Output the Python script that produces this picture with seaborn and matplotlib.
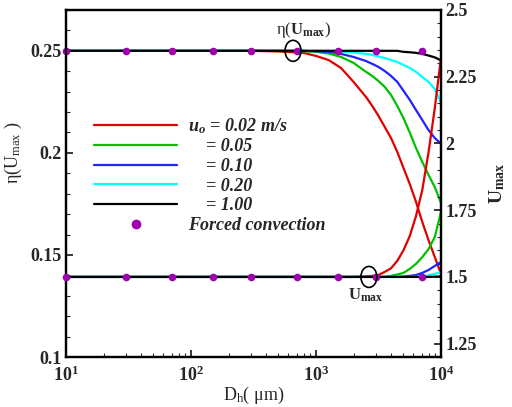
import numpy as np
import pandas as pd
import matplotlib
matplotlib.use("Agg")
import matplotlib.pyplot as plt
import matplotlib.ticker as mticker
from matplotlib.lines import Line2D
from matplotlib.patches import Ellipse
from matplotlib.transforms import ScaledTranslation
import seaborn as sns

# hydraulic diameter samples (um)
dh = [10, 316, 501, 794, 1000, 1259, 1585, 1995, 2512, 2818, 3162, 3548, 3981,
      4467, 5012, 5623, 6310, 7079, 7943, 8913, 10000]

uo_labels = ["0.02", "0.05", "0.10", "0.20", "1.00"]

# efficiency eta(Umax), left axis
eta_002 = [0.25, 0.25, 0.2497, 0.2490, 0.2475, 0.2455, 0.2416, 0.2348, 0.2274, 0.2230, 0.2181,
           0.2127, 0.2073, 0.2005, 0.1926, 0.1848, 0.1760, 0.1662, 0.1573, 0.1490, 0.1407]
eta_005 = [0.25, 0.25, 0.25, 0.2498, 0.2495, 0.2487, 0.2470, 0.2441, 0.2397, 0.2377, 0.2352,
           0.2323, 0.2284, 0.2230, 0.2170, 0.2100, 0.2024, 0.1956, 0.1892, 0.1833, 0.1755]
eta_010 = [0.25, 0.25, 0.25, 0.25, 0.2498, 0.2495, 0.2485, 0.2470, 0.2450, 0.2436, 0.2421,
           0.2401, 0.2377, 0.2348, 0.2304, 0.2260, 0.2210, 0.2161, 0.2112, 0.2073, 0.2044]
eta_020 = [0.25, 0.25, 0.25, 0.25, 0.25, 0.25, 0.2497, 0.2492, 0.2485, 0.2480, 0.2472,
           0.2465, 0.2455, 0.2445, 0.2431, 0.2416, 0.2397, 0.2372, 0.2348, 0.2313, 0.2245]
eta_100 = [0.25, 0.25, 0.25, 0.25, 0.25, 0.25, 0.25, 0.25, 0.25, 0.25, 0.25,
           0.25, 0.25, 0.25, 0.2495, 0.2493, 0.2490, 0.2485, 0.2477, 0.2468, 0.2453]

# maximum velocity Umax, right axis
umax_002 = [1.5, 1.5, 1.5, 1.5, 1.5, 1.5, 1.5, 1.5, 1.502, 1.504, 1.507,
            1.519, 1.532, 1.560, 1.600, 1.653, 1.728, 1.825, 1.966, 2.131, 2.321]
umax_005 = [1.5, 1.5, 1.5, 1.5, 1.5, 1.5, 1.5, 1.5, 1.5, 1.5, 1.5,
            1.5, 1.504, 1.509, 1.515, 1.530, 1.549, 1.574, 1.604, 1.649, 1.743]
umax_010 = [1.5, 1.5, 1.5, 1.5, 1.5, 1.5, 1.5, 1.5, 1.5, 1.5, 1.5,
            1.5, 1.5, 1.5, 1.502, 1.504, 1.507, 1.515, 1.526, 1.541, 1.556]
umax_020 = [1.5, 1.5, 1.5, 1.5, 1.5, 1.5, 1.5, 1.5, 1.5, 1.5, 1.5,
            1.5, 1.5, 1.5, 1.5, 1.5, 1.5, 1.502, 1.506, 1.511, 1.519]
umax_100 = [1.5, 1.5, 1.5, 1.5, 1.5, 1.5, 1.5, 1.5, 1.5, 1.5, 1.5,
            1.5, 1.5, 1.5, 1.5, 1.5, 1.5, 1.5, 1.5, 1.501, 1.502]

# forced convection reference points
fc_dh = [10, 30, 70, 150, 300, 700, 1500, 3000, 7000]
fc_eta = [0.25] * 9
fc_umax = [1.5] * 9

colors = ["#e00000", "#00c000", "#2222ff", "#00ffff", "#000000"]
fc_color = "#a000b0"

eta_df = pd.DataFrame({
    "Dh": dh * 5,
    "uo": np.repeat(uo_labels, len(dh)),
    "val": eta_002 + eta_005 + eta_010 + eta_020 + eta_100,
})
umax_df = pd.DataFrame({
    "Dh": dh * 5,
    "uo": np.repeat(uo_labels, len(dh)),
    "val": umax_002 + umax_005 + umax_010 + umax_020 + umax_100,
})
palette = dict(zip(uo_labels, colors))

sns.set_theme(style="ticks")
plt.rcParams["font.family"] = ["Liberation Serif", "DejaVu Serif"]
plt.rcParams["mathtext.fontset"] = "custom"
plt.rcParams["mathtext.rm"] = "Liberation Serif"
plt.rcParams["mathtext.it"] = "Liberation Serif:italic:bold"
plt.rcParams["mathtext.bf"] = "Liberation Serif:bold"

fig = plt.figure(figsize=(5.12, 4.07), dpi=100)
ax = fig.add_axes([66 / 512, 50 / 407, 375 / 512, 347 / 407])
ax2 = ax.twinx()

sns.lineplot(data=eta_df, x="Dh", y="val", hue="uo", palette=palette, hue_order=uo_labels,
             estimator=None, sort=False, lw=1.6, legend=False, ax=ax)
sns.lineplot(data=umax_df, x="Dh", y="val", hue="uo", palette=palette, hue_order=uo_labels,
             estimator=None, sort=False, lw=1.6, legend=False, ax=ax2)
ax.scatter(fc_dh, fc_eta, s=30, color=fc_color, zorder=5, clip_on=False, linewidths=0)
ax2.scatter(fc_dh, fc_umax, s=30, color=fc_color, zorder=5, clip_on=False, linewidths=0)

ax.set_xscale("log")
ax.set_xlim(10, 10000)
ax.set_ylim(0.1, 0.27)
ax2.set_ylim(1.2, 2.5)

ax.yaxis.set_major_locator(mticker.MultipleLocator(0.05))
ax.yaxis.set_minor_locator(mticker.MultipleLocator(0.01))
ax.yaxis.set_major_formatter(mticker.FormatStrFormatter("%g"))
ax2.yaxis.set_major_locator(mticker.FixedLocator([1.25, 1.5, 1.75, 2, 2.25, 2.5]))
ax2.yaxis.set_minor_locator(mticker.MultipleLocator(0.05))
ax2.yaxis.set_major_formatter(mticker.FormatStrFormatter("%g"))
ax.xaxis.set_major_locator(mticker.FixedLocator([10, 100, 1000, 10000]))
ax.xaxis.set_major_formatter(mticker.FixedFormatter([r"$\mathbf{10^{1}}$", r"$\mathbf{10^{2}}$",
                                                     r"$\mathbf{10^{3}}$", r"$\mathbf{10^{4}}$"]))
ax.xaxis.set_minor_locator(mticker.LogLocator(base=10, subs=np.arange(2, 10), numticks=30))
ax.xaxis.set_minor_formatter(mticker.NullFormatter())

for a in (ax, ax2):
    for s in a.spines.values():
        s.set_linewidth(1.6)
        s.set_color("black")
    a.tick_params(which="major", direction="in", length=5, width=1.3, labelsize=13, pad=3)
    a.tick_params(which="minor", direction="in", length=3, width=0.8)
ax.tick_params(axis="x", which="major", pad=6)
ax.tick_params(axis="y", which="both", left=True, right=False)
ax.tick_params(axis="x", which="both", bottom=True, top=False)
ax2.tick_params(axis="y", which="both", right=True, left=False)
for lab in ax.get_yticklabels() + ax2.get_yticklabels():
    lab.set_fontweight("bold")

ax.set_xlabel(r"D$_{\mathrm{h}}$( μm)", fontsize=13, labelpad=0)
ax.set_ylabel(r"$\mathrm{\eta}$(U$_{\mathrm{max}}$ )", fontsize=13)
ax.yaxis.set_label_coords(-0.112, 0.588)
ax2.set_ylabel(r"$\mathbf{U_{max}}$", fontsize=14, labelpad=8)

# circled markers and their labels
def ring(axis, x, y):
    tr = fig.dpi_scale_trans + ScaledTranslation(x, y, axis.transData)
    axis.add_patch(Ellipse((0, 0), 0.16, 0.21, transform=tr, fill=False, ec="black", lw=1.2, zorder=6))

ring(ax, 655, 0.25)
ring(ax2, 2650, 1.5)
ax.text(655 * 1.22, 0.2602, r"$\mathrm{\eta}$($\mathbf{U_{max}}$)", fontsize=12, ha="center", va="center")
ax2.text(2650 * 0.95, 1.43, r"$\mathbf{U_{max}}$", fontsize=12, ha="center", va="center")

handles = [Line2D([], [], color=c, lw=1.6) for c in colors]
handles.append(Line2D([], [], ls="none", marker="o", ms=6, color=fc_color, mec=fc_color))
labels = [r"$u_o$ = 0.02 m/s", "    = 0.05", "    = 0.10", "    = 0.20", "    = 1.00",
          "Forced convection"]
ax.legend(handles, labels, loc="upper left", bbox_to_anchor=(0.075, 0.695), frameon=False,
          prop={"family": "Liberation Serif", "weight": "bold", "style": "italic", "size": 13},
          handlelength=4.6, handletextpad=0.6, labelspacing=0.15, borderpad=0, borderaxespad=0,
          numpoints=1)

fig.savefig("out.png", dpi=100)
